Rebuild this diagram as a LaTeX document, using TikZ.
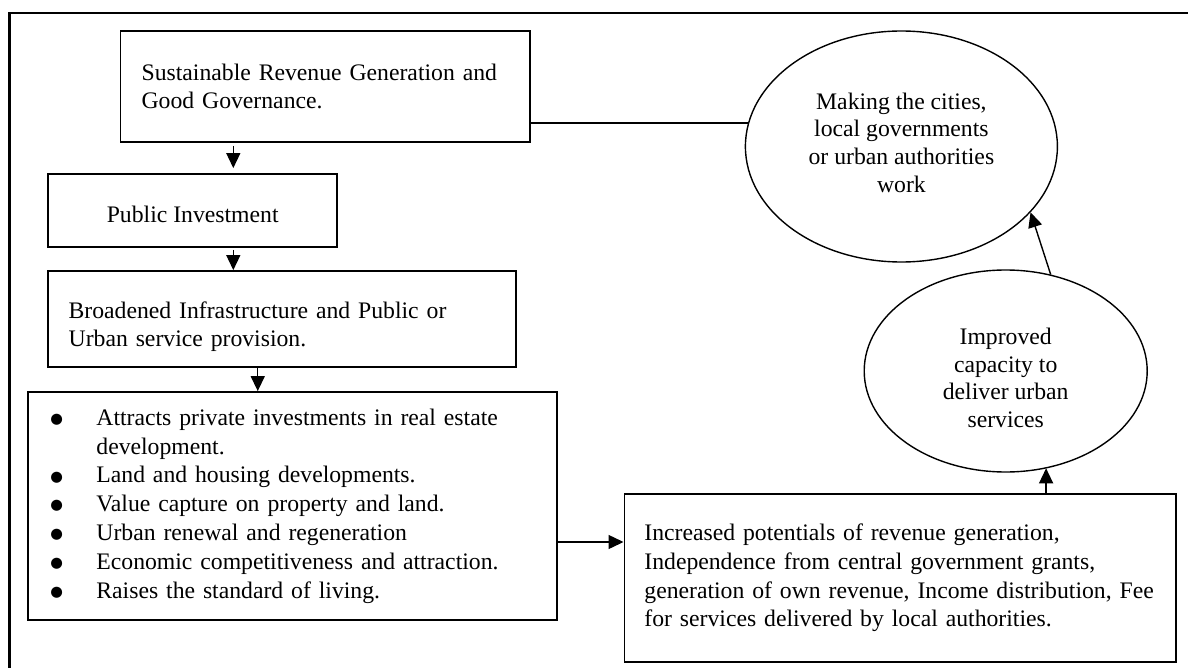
\documentclass[tikz,border=0pt]{standalone}
\usepackage{fontspec}
\setmainfont{Liberation Serif}
\newfontfamily\symfont{DejaVu Sans}
\usetikzlibrary{shapes.geometric,arrows.meta}

% round bullet followed by a fixed indent for the list entries
\newcommand\bulitem{\makebox[46pt][l]{\raisebox{1.8pt}{\symfont\fontsize{14.5}{14.5}\selectfont ●}}}

\begin{document}
\begin{tikzpicture}[x=1pt,y=-1pt,
  every node/.style={font=\fontsize{23.7}{28.8}\selectfont},
  box/.style={draw,line width=1.8pt,rectangle,inner ysep=0pt,align=left},
  oval/.style={draw,line width=1.4pt,ellipse,inner sep=0pt,align=center,
    font=\fontsize{23.7}{27.6}\selectfont},
  arr/.style={line width=1.4pt,-{Triangle[length=15pt,width=14pt]}},
  link/.style={line width=1.4pt},
  frame/.style={line width=2.2pt}]
\useasboundingbox (0,0) rectangle (1188,668);

% open frame: top and left rules
\draw[frame] (9.5,672) -- (9.5,13.3) -- (1192,13.3);

% left column of boxes
\node[box,minimum width=409.2pt,minimum height=111pt,text width=367pt]
  (srg) at (325.1,86.5) {Sustainable Revenue Generation and\\Good Governance.};
\node[box,minimum width=289pt,minimum height=73pt,align=center]
  (pinv) at (192.7,210.5) {\rule{0pt}{24.2pt}Public Investment};
\node[box,minimum width=467.7pt,minimum height=96pt,text width=426.7pt]
  (bis) at (282,319) {\rule{0pt}{32.2pt}\makebox[426.7pt][s]{Broadened Infrastructure and Public or}\\Urban service provision.};
\node[box,minimum width=529.2pt,minimum height=228pt,text width=483.6pt]
  (eff) at (292.2,506) {\bulitem Attracts private investments in real estate\\
    \hspace*{46pt}development.\\
    \bulitem Land and housing developments.\\
    \bulitem Value capture on property and land.\\
    \bulitem Urban renewal and regeneration\\
    \bulitem Economic competitiveness and attraction.\\
    \bulitem Raises the standard of living.};

% right side
\node[box,minimum width=551.8pt,minimum height=168pt,text width=511.8pt]
  (rev) at (900.3,578) {Increased potentials of revenue generation,\\
    Independence from central government grants,\\
    generation of own revenue, Income distribution, Fee\\
    for services delivered by local authorities.};
\node[oval,minimum width=312pt,minimum height=231pt]
  (ell1) at (901.4,146.5) {Making the cities,\\local governments\\or urban authorities\\work\rule[-8pt]{0pt}{8pt}};
\node[oval,minimum width=283pt,minimum height=202pt]
  (ell2) at (1005.7,371) {\rule{0pt}{30.2pt}Improved\\capacity to\\deliver urban\\services};

% connectors
\draw[arr,shorten <=3pt,shorten >=5pt] ([xshift=113.7pt]srg.south west) coordinate (a1) -- (a1 |- pinv.north);
\draw[arr,shorten <=2pt] ([xshift=186pt]pinv.south west) coordinate (a2) -- (a2 |- bis.north);
\draw[arr] ([xshift=210.5pt]bis.south west) coordinate (a3) -- (a3 |- eff.north);
\draw[arr] ([yshift=-36pt]eff.east) coordinate (a4) -- (a4 -| rev.west);
\draw[arr] ([xshift=422.6pt]rev.north west) coordinate (a5) -- (a5 |- ell2.-67);
\draw[arr] (ell2.65) -- (ell1.-27.5);
\draw[link] ([yshift=-36.5pt]srg.east) coordinate (a6) -- (a6 -| ell1.171);
\end{tikzpicture}
\end{document}
